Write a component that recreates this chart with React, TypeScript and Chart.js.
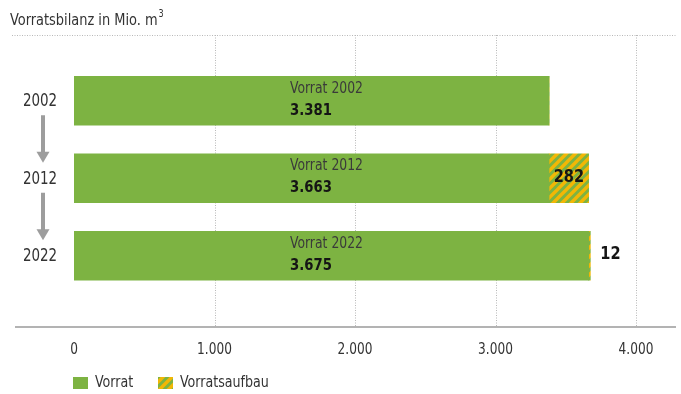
import React, { useEffect, useRef } from 'react';
import { Chart, registerables } from 'chart.js';

Chart.register(...registerables);

// ---- data ----
const years = ['2002', '2012', '2022'];
const vorrat = [3381, 3381, 3663];
const vorratsaufbau = [0, 282, 12];
const barTitles = ['Vorrat 2002', 'Vorrat 2012', 'Vorrat 2022'];
const totalLabels = ['3.381', '3.663', '3.675'];
const aufbauLabels = ['', '282', '12'];
const xTickValues = [0, 1000, 2000, 3000, 4000];
const seriesNames = ['Vorrat', 'Vorratsaufbau'];
const chartTitle = 'Vorratsbilanz in Mio. m³';

// ---- style ----
const W = 681;
const H = 394;
const GREEN = '#7db342';
const YELLOW = '#f2b705';
const FONT = "'Liberation Sans Narrow', 'DejaVu Sans Condensed', 'Liberation Sans', Arial, sans-serif";

function fmt(v: number): string {
  return String(v).replace(/\B(?=(\d{3})+(?!\d))/g, '.');
}

function makeHatch(): CanvasPattern | string {
  const s = 9;
  const c = document.createElement('canvas');
  c.width = s;
  c.height = s;
  const g = c.getContext('2d');
  if (!g) return YELLOW;
  g.fillStyle = GREEN;
  g.fillRect(0, 0, s, s);
  g.strokeStyle = YELLOW;
  g.lineWidth = 3.4;
  g.beginPath();
  g.moveTo(-1, s + 1);
  g.lineTo(s + 1, -1);
  g.moveTo(-3, 3);
  g.lineTo(3, -3);
  g.moveTo(s - 3, s + 3);
  g.lineTo(s + 3, s - 3);
  g.stroke();
  const p = g.createPattern(c, 'repeat');
  return p || YELLOW;
}

// draw horizontally condensed text
function cText(
  ctx: CanvasRenderingContext2D,
  text: string,
  x: number,
  y: number,
  align: 'left' | 'center' | 'right',
  k: number
) {
  const w = ctx.measureText(text).width * k;
  let left = x;
  if (align === 'center') left = x - w / 2;
  else if (align === 'right') left = x - w;
  ctx.save();
  ctx.textAlign = 'left';
  ctx.translate(left, y);
  ctx.scale(k, 1);
  ctx.fillText(text, 0, 0);
  ctx.restore();
  return w;
}

const decorPlugin = {
  id: 'decor',
  beforeDraw(chart: any) {
    const ctx = chart.ctx;
    ctx.save();
    ctx.fillStyle = '#ffffff';
    ctx.fillRect(0, 0, chart.width, chart.height);
    ctx.restore();
  },
  beforeDatasetsDraw(chart: any) {
    const ctx = chart.ctx;
    const xs = chart.scales.x;
    const topY = 35;
    const axisY = 327;
    ctx.save();
    ctx.strokeStyle = '#b8b8b8';
    ctx.lineWidth = 1;
    ctx.setLineDash([1, 1.5]);
    ctx.beginPath();
    ctx.moveTo(12, topY + 0.5);
    ctx.lineTo(676, topY + 0.5);
    ctx.stroke();
    xs.ticks.forEach((t: any) => {
      if (t.value === 0) return;
      const x = Math.round(xs.getPixelForValue(t.value)) + 0.5;
      ctx.beginPath();
      ctx.moveTo(x, topY);
      ctx.lineTo(x, axisY);
      ctx.stroke();
    });
    ctx.setLineDash([]);
    ctx.strokeStyle = '#9a9a9a';
    ctx.lineWidth = 1.5;
    ctx.beginPath();
    ctx.moveTo(15, axisY);
    ctx.lineTo(676, axisY);
    ctx.stroke();
    // tick labels
    ctx.fillStyle = '#333333';
    ctx.font = `15px ${FONT}`;
    ctx.textBaseline = 'middle';
    xs.ticks.forEach((t: any) => {
      cText(ctx, fmt(t.value), xs.getPixelForValue(t.value), 350, 'center', 0.9);
    });
    ctx.restore();
  },
  afterDatasetsDraw(chart: any) {
    const ctx = chart.ctx;
    const xs = chart.scales.x;
    const ys = chart.scales.y;
    const area = chart.chartArea;
    ctx.save();
    // title
    ctx.fillStyle = '#333333';
    ctx.textBaseline = 'alphabetic';
    ctx.font = `16px ${FONT}`;
    const base = chartTitle.replace('³', '');
    const bw = cText(ctx, base, 10, 25, 'left', 0.9);
    ctx.font = `10px ${FONT}`;
    cText(ctx, '3', 10 + bw + 1, 17, 'left', 0.9);

    years.forEach((yr, i) => {
      const yc = ys.getPixelForValue(i);
      ctx.textBaseline = 'middle';
      ctx.fillStyle = '#333333';
      ctx.font = `17px ${FONT}`;
      cText(ctx, yr, 40, yc + 1, 'center', 0.88);
      ctx.fillStyle = '#3a3a3a';
      ctx.font = `15px ${FONT}`;
      cText(ctx, barTitles[i], area.left + 216, yc - 12, 'left', 0.92);
      ctx.fillStyle = '#151515';
      ctx.font = `bold 16px ${FONT}`;
      cText(ctx, totalLabels[i], area.left + 216, yc + 10, 'left', 0.92);
      const lbl = aufbauLabels[i];
      if (lbl) {
        const x0 = xs.getPixelForValue(vorrat[i]);
        const x1 = xs.getPixelForValue(vorrat[i] + vorratsaufbau[i]);
        ctx.font = `bold 18px ${FONT}`;
        if (x1 - x0 > 30) cText(ctx, lbl, (x0 + x1) / 2, yc - 1, 'center', 0.9);
        else cText(ctx, lbl, x1 + 10, yc - 1, 'left', 0.9);
      }
    });

    // arrows
    ctx.fillStyle = '#9d9d9d';
    for (let i = 0; i < years.length - 1; i++) {
      const y0 = ys.getPixelForValue(i) + 14.5;
      const y1 = ys.getPixelForValue(i + 1) - 15.5;
      const cx = 43;
      ctx.fillRect(cx - 2, y0, 4, y1 - y0 - 10);
      ctx.beginPath();
      ctx.moveTo(cx - 6.5, y1 - 11);
      ctx.lineTo(cx + 6.5, y1 - 11);
      ctx.lineTo(cx, y1);
      ctx.closePath();
      ctx.fill();
    }

    // legend
    const ly = 383;
    const items = [
      { x: 73, fill: chart.data.datasets[0].backgroundColor, label: seriesNames[0] },
      { x: 158, fill: chart.data.datasets[1].backgroundColor, label: seriesNames[1] },
    ];
    items.forEach((it) => {
      ctx.fillStyle = it.fill;
      ctx.fillRect(it.x, ly - 6, 15, 12);
      ctx.fillStyle = '#333333';
      ctx.font = `16px ${FONT}`;
      ctx.textBaseline = 'middle';
      cText(ctx, it.label, it.x + 22, ly, 'left', 0.88);
    });
    ctx.restore();
  },
};

export default function App() {
  const ref = useRef<HTMLCanvasElement | null>(null);

  useEffect(() => {
    const canvas = ref.current;
    if (!canvas) return;
    const hatch = makeHatch();
    const chart = new Chart(canvas, {
      type: 'bar',
      data: {
        labels: years,
        datasets: [
          { label: seriesNames[0], data: vorrat, backgroundColor: GREEN, borderWidth: 0, barThickness: 49 },
          { label: seriesNames[1], data: vorratsaufbau, backgroundColor: hatch as any, borderWidth: 0, barThickness: 49 },
        ],
      },
      options: {
        indexAxis: 'y',
        responsive: false,
        animation: false,
        devicePixelRatio: 1,
        layout: { padding: { left: 74, right: 45, top: 62, bottom: 99.5 } },
        plugins: {
          legend: { display: false },
          tooltip: { enabled: false },
          title: { display: false },
        },
        scales: {
          x: {
            type: 'linear',
            stacked: true,
            min: 0,
            max: 4000,
            afterBuildTicks: (scale: any) => {
              scale.ticks = xTickValues.map((v) => ({ value: v }));
            },
            afterFit: (scale: any) => {
              scale.height = 0;
            },
            grid: { display: false, drawTicks: false },
            border: { display: false },
            ticks: { display: false },
          },
          y: {
            type: 'category',
            stacked: true,
            display: false,
          },
        },
      },
      plugins: [decorPlugin],
    });
    return () => chart.destroy();
  }, []);

  return (
    <div style={{ position: 'fixed', left: 0, top: 0, width: W, height: H, background: '#fff' }}>
      <canvas ref={ref} width={W} height={H} style={{ width: W, height: H, display: 'block' }} />
    </div>
  );
}
